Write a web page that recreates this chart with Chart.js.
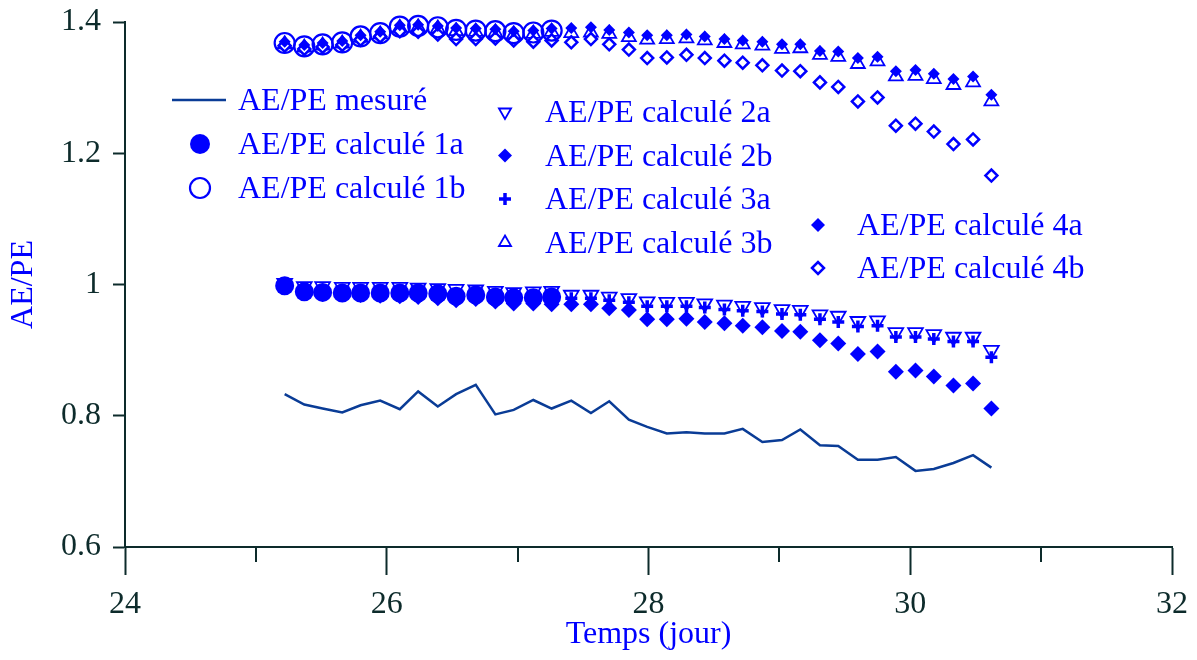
<!DOCTYPE html>
<html>
<head>
<meta charset="utf-8">
<script src="https://cdn.jsdelivr.net/npm/chart.js@4.4.1/dist/chart.umd.min.js"></script>
<style>
  html, body { margin: 0; padding: 0; background: #fff; }
</style>
</head>
<body>
<canvas id="chartAEPE" width="1197" height="660"></canvas>
<script>
// temps (jour)
const temps = [25.22, 25.37, 25.51, 25.66, 25.80, 25.95, 26.10, 26.24, 26.39, 26.53,
  26.68, 26.83, 26.97, 27.12, 27.26, 27.41, 27.56, 27.70, 27.85, 27.99,
  28.14, 28.29, 28.43, 28.58, 28.72, 28.87, 29.02, 29.16, 29.31, 29.45,
  29.60, 29.75, 29.89, 30.04, 30.18, 30.33, 30.48, 30.62];

const mesure = [0.833, 0.817, 0.811, 0.805, 0.816, 0.823, 0.810, 0.837, 0.814, 0.833,
  0.847, 0.802, 0.809, 0.824, 0.811, 0.823, 0.804, 0.822, 0.794, 0.783,
  0.773, 0.775, 0.773, 0.773, 0.780, 0.760, 0.763, 0.779, 0.755, 0.754,
  0.733, 0.733, 0.737, 0.716, 0.719, 0.728, 0.740, 0.721];

// 1a et 1b s'arretent plus tot (15 points)
const calc1a = [0.998, 0.989, 0.988, 0.987, 0.987, 0.987, 0.987, 0.987, 0.986, 0.982,
  0.984, 0.981, 0.980, 0.980, 0.981];
const calc1b = [1.368, 1.363, 1.366, 1.369, 1.378, 1.383, 1.393, 1.394, 1.392, 1.388,
  1.387, 1.386, 1.383, 1.384, 1.387];

const calc2a = [1.002, 0.997, 0.997, 0.996, 0.996, 0.996, 0.996, 0.995, 0.994, 0.993,
  0.992, 0.990, 0.988, 0.989, 0.990, 0.984, 0.984, 0.981, 0.979, 0.974,
  0.973, 0.973, 0.971, 0.969, 0.967, 0.965, 0.962, 0.961, 0.954, 0.952,
  0.944, 0.945, 0.927, 0.927, 0.924, 0.920, 0.920, 0.900];
const calc2b = [1.370, 1.365, 1.368, 1.371, 1.380, 1.385, 1.395, 1.396, 1.394, 1.391,
  1.390, 1.389, 1.386, 1.387, 1.390, 1.391, 1.392, 1.388, 1.384, 1.380,
  1.380, 1.381, 1.378, 1.374, 1.372, 1.370, 1.366, 1.366, 1.356, 1.355,
  1.345, 1.347, 1.325, 1.327, 1.321, 1.313, 1.317, 1.289];
const calc3a = [0.998, 0.992, 0.992, 0.991, 0.991, 0.991, 0.991, 0.990, 0.989, 0.987,
  0.987, 0.985, 0.983, 0.983, 0.984, 0.979, 0.979, 0.976, 0.973, 0.967,
  0.967, 0.967, 0.965, 0.962, 0.960, 0.959, 0.955, 0.954, 0.947, 0.943,
  0.936, 0.937, 0.920, 0.920, 0.917, 0.913, 0.913, 0.889];
const calc3b = [1.366, 1.361, 1.364, 1.367, 1.376, 1.381, 1.391, 1.392, 1.390, 1.386,
  1.385, 1.384, 1.381, 1.382, 1.385, 1.383, 1.384, 1.382, 1.377, 1.373,
  1.374, 1.375, 1.372, 1.368, 1.366, 1.364, 1.359, 1.360, 1.350, 1.347,
  1.336, 1.340, 1.317, 1.318, 1.313, 1.304, 1.308, 1.279];
const calc4a = [0.996, 0.987, 0.986, 0.985, 0.984, 0.983, 0.982, 0.981, 0.979, 0.976,
  0.978, 0.974, 0.971, 0.971, 0.970, 0.970, 0.970, 0.964, 0.961, 0.947,
  0.947, 0.948, 0.943, 0.941, 0.937, 0.935, 0.929, 0.928, 0.915, 0.910,
  0.894, 0.898, 0.867, 0.869, 0.860, 0.846, 0.849, 0.811];
const calc4b = [1.364, 1.359, 1.362, 1.365, 1.373, 1.378, 1.386, 1.385, 1.381, 1.374,
  1.374, 1.375, 1.372, 1.370, 1.372, 1.369, 1.374, 1.366, 1.358, 1.345,
  1.346, 1.350, 1.345, 1.341, 1.338, 1.334, 1.326, 1.325, 1.308, 1.301,
  1.279, 1.285, 1.242, 1.245, 1.233, 1.214, 1.221, 1.166];

const xTicks = [24, 26, 28, 30, 32];
const xMinorTicks = [25, 27, 29, 31];
const yTicks = [0.6, 0.8, 1, 1.2, 1.4];
const yTickLabels = ['0.6', '0.8', '1', '1.2', '1.4'];

const BLEU = '#0000ff';
const BLEU_LIGNE = '#0a3c96';
const AXE = '#0d2b2b';
const POLICE = 'Liberation Serif';

function points(ys) {
    return ys.map((y, i) => ({ x: temps[i], y: y }));
}

function serieMarqueurs(label, ys, style, extra) {
    return Object.assign({
        label: label,
        data: points(ys),
        showLine: false,
        clip: false,
        pointStyle: style,
        borderColor: BLEU,
        backgroundColor: BLEU,
        pointBorderColor: BLEU,
        pointBackgroundColor: BLEU
    }, extra);
}

// legende dessinee a la main (3 blocs)
const legendeBlocs = [
    { x: 200, tx: 238, y0: 100, dy: 44, items: [0, 1, 2] },
    { x: 505, tx: 545, y0: 112, dy: 43.5, items: [3, 4, 5, 6] },
    { x: 818, tx: 857, y0: 225, dy: 43, items: [7, 8] }
];

const legendePlugin = {
    id: 'legendePerso',
    afterDraw(chart) {
        const ctx = chart.ctx;
        const xs = chart.scales.x;
        const area = chart.chartArea;

        // graduations secondaires
        ctx.save();
        ctx.strokeStyle = AXE;
        ctx.lineWidth = 2;
        xMinorTicks.forEach(v => {
            const px = Math.round(xs.getPixelForValue(v));
            ctx.beginPath();
            ctx.moveTo(px, area.bottom);
            ctx.lineTo(px, area.bottom + 15);
            ctx.stroke();
        });
        ctx.restore();

        ctx.save();
        ctx.font = '32px "' + POLICE + '"';
        ctx.textBaseline = 'middle';
        legendeBlocs.forEach(b => {
            b.items.forEach((idx, k) => {
                const ds = chart.data.datasets[idx];
                const y = b.y0 + k * b.dy;
                if (ds.showLine) {
                    ctx.strokeStyle = ds.borderColor;
                    ctx.lineWidth = ds.borderWidth;
                    ctx.beginPath();
                    ctx.moveTo(172, y);
                    ctx.lineTo(226, y);
                    ctx.stroke();
                } else {
                    ctx.fillStyle = ds.pointBackgroundColor;
                    ctx.strokeStyle = ds.pointBorderColor;
                    ctx.lineWidth = ds.pointBorderWidth;
                    Chart.helpers.drawPoint(ctx, {
                        pointStyle: ds.pointStyle,
                        radius: ds.legendRadius || ds.pointRadius,
                        rotation: ds.pointRotation || 0,
                        borderWidth: ds.pointBorderWidth
                    }, b.x, y);
                }
                ctx.fillStyle = BLEU;
                ctx.fillText(ds.label, b.tx, y + 2);
            });
        });
        ctx.restore();
    }
};

const ctx = document.getElementById('chartAEPE').getContext('2d');
const graphe = new Chart(ctx, {
    type: 'scatter',
    data: {
        datasets: [
            {
                label: 'AE/PE mesuré',
                data: points(mesure),
                showLine: true,
                borderColor: BLEU_LIGNE,
                borderWidth: 2.5,
                pointRadius: 0,
                tension: 0,
                order: 0
            },
            serieMarqueurs('AE/PE calculé 1a', calc1a, 'circle',
                { pointRadius: 9.5, legendRadius: 10, pointBorderWidth: 0, order: 1 }),
            serieMarqueurs('AE/PE calculé 1b', calc1b, 'circle',
                { pointRadius: 10, legendRadius: 10, pointBorderWidth: 2.2, pointBackgroundColor: 'rgba(0,0,0,0)', order: 2 }),
            serieMarqueurs('AE/PE calculé 2a', calc2a, 'triangle',
                { pointRadius: 8.5, legendRadius: 7, pointRotation: 180, pointBorderWidth: 1.8, pointBackgroundColor: 'rgba(0,0,0,0)', order: 7 }),
            serieMarqueurs('AE/PE calculé 2b', calc2b, 'rectRot',
                { pointRadius: 6, legendRadius: 7, pointBorderWidth: 0, order: 3 }),
            serieMarqueurs('AE/PE calculé 3a', calc3a, 'cross',
                { pointRadius: 6, legendRadius: 6, pointBorderWidth: 3.5, order: 4 }),
            serieMarqueurs('AE/PE calculé 3b', calc3b, 'triangle',
                { pointRadius: 8, legendRadius: 7, pointBorderWidth: 1.8, pointBackgroundColor: 'rgba(0,0,0,0)', order: 8 }),
            serieMarqueurs('AE/PE calculé 4a', calc4a, 'rectRot',
                { pointRadius: 8, legendRadius: 7, pointBorderWidth: 0, order: 5 }),
            serieMarqueurs('AE/PE calculé 4b', calc4b, 'rectRot',
                { pointRadius: 6, legendRadius: 6, pointBorderWidth: 2.5, pointBackgroundColor: '#ffffff', order: 6 })
        ]
    },
    options: {
        responsive: false,
        animation: false,
        devicePixelRatio: 1,
        layout: { padding: { top: 22, right: 25, left: 0, bottom: 0 } },
        plugins: {
            legend: { display: false },
            tooltip: { enabled: false }
        },
        scales: {
            x: {
                type: 'linear',
                min: 24,
                max: 32,
                afterBuildTicks: s => { s.ticks = xTicks.map(v => ({ value: v })); },
                afterFit: s => { s.height = 113; s.paddingLeft = 0; s.paddingRight = 0; },
                border: { display: true, color: AXE, width: 2 },
                grid: { drawOnChartArea: false, drawTicks: true, tickLength: 28, tickWidth: 2, tickColor: AXE },
                ticks: { color: AXE, padding: 10, font: { family: POLICE, size: 32 }, maxRotation: 0 },
                title: {
                    display: true,
                    text: 'Temps (jour)',
                    color: BLEU,
                    font: { family: POLICE, size: 32 },
                    padding: { top: 0, bottom: 6 }
                }
            },
            y: {
                type: 'linear',
                min: 0.6,
                max: 1.4,
                afterBuildTicks: s => { s.ticks = yTicks.map(v => ({ value: v })); },
                afterFit: s => { s.width = 125; s.paddingTop = 0; s.paddingBottom = 0; },
                border: { display: true, color: AXE, width: 2 },
                grid: { drawOnChartArea: false, drawTicks: true, tickLength: 12, tickWidth: 2, tickColor: AXE },
                ticks: {
                    color: AXE,
                    padding: 12,
                    font: { family: POLICE, size: 32 },
                    callback: v => yTickLabels[yTicks.indexOf(v)]
                },
                title: {
                    display: true,
                    text: 'AE/PE',
                    color: BLEU,
                    font: { family: POLICE, size: 32 },
                    padding: { top: 4, bottom: 0 }
                }
            }
        }
    },
    plugins: [legendePlugin]
});
window.graphe = graphe;
</script>
</body>
</html>
